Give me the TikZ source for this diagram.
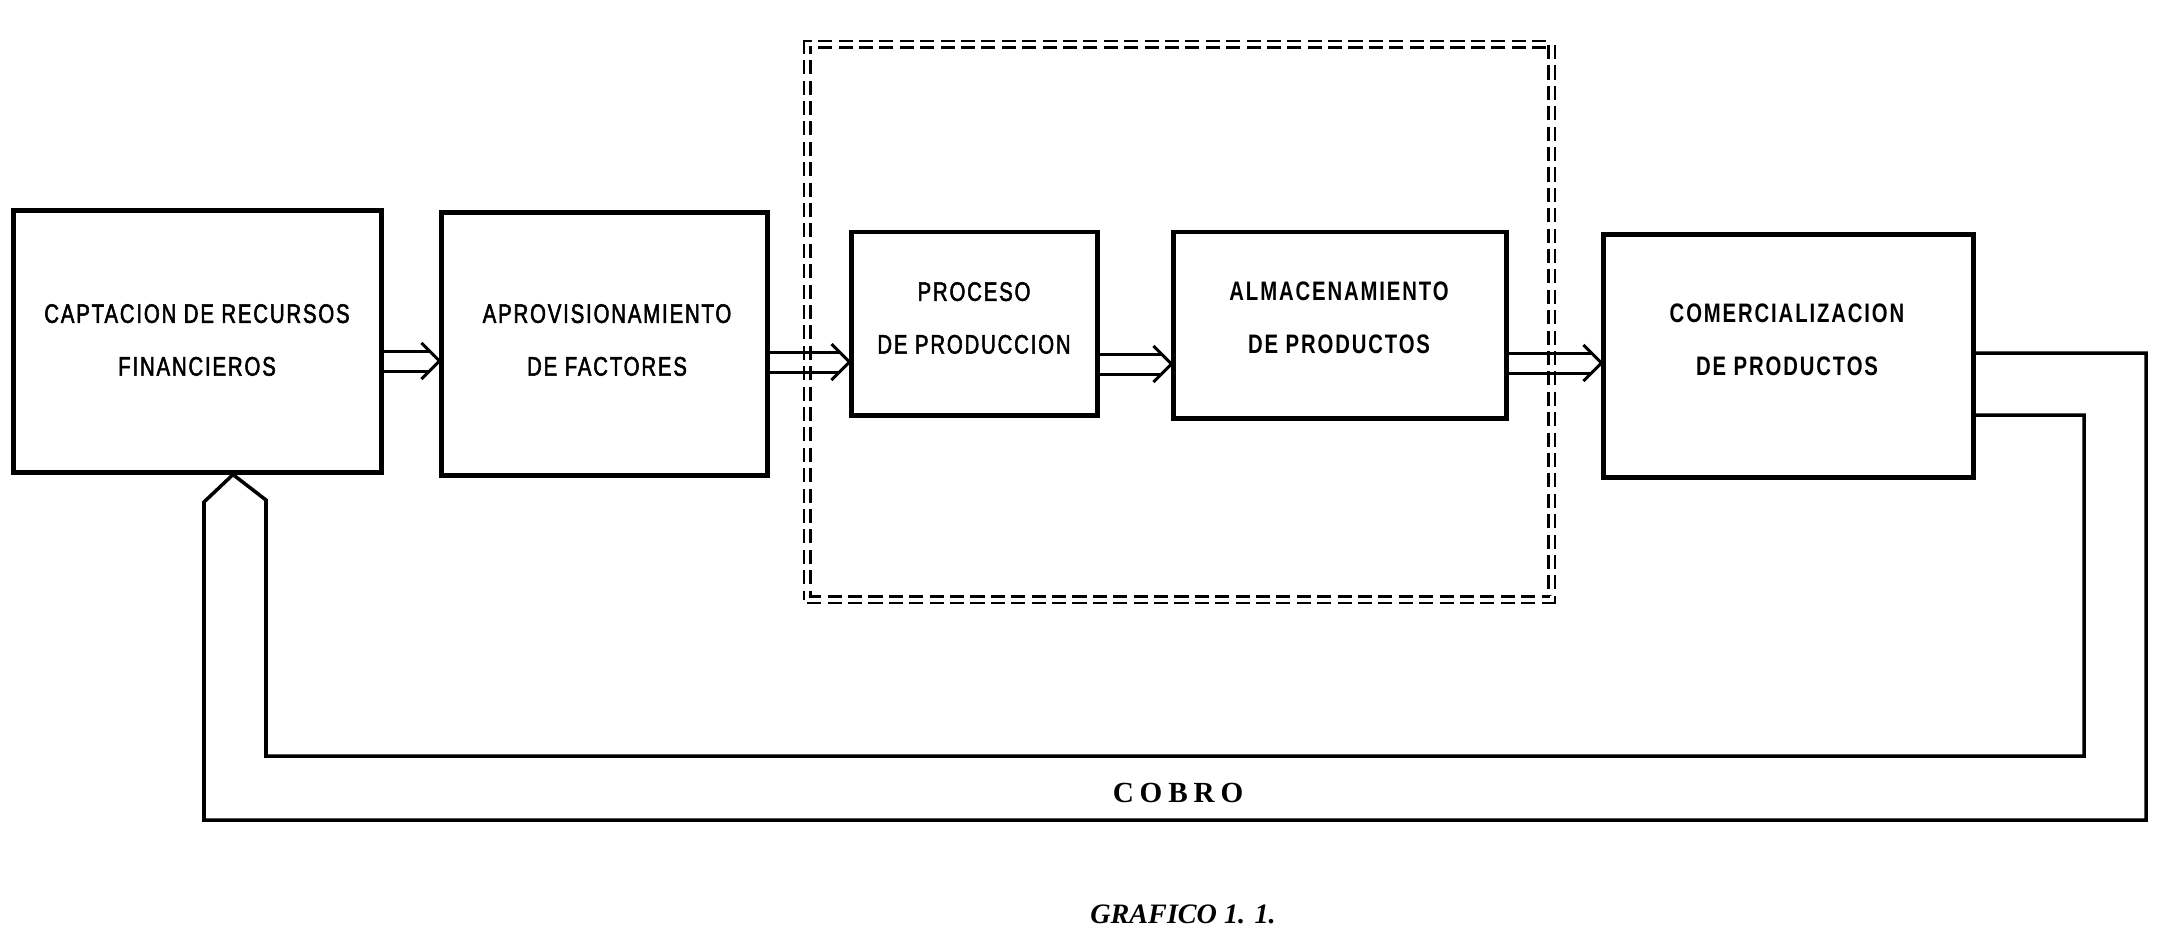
\documentclass[tikz,border=0pt]{standalone}
\usepackage{fontspec}
\setmainfont{Liberation Serif}
\newfontfamily\boxfont[FakeStretch=0.76,LetterSpace=7,FakeBold=2]{Liberation Sans}
\newfontfamily\boxfontb[FakeStretch=0.76,LetterSpace=7,UprightFont={* Bold}]{Liberation Sans}
\usetikzlibrary{calc}
\newcommand\dblarr[3]{%
  \draw[arrline] ($(#1.east |- #3)+(0,-10)$) -- ($(#2.west |- #3)+(-9,-10)$);
  \draw[arrline] ($(#1.east |- #3)+(0,10)$) -- ($(#2.west |- #3)+(-9,10)$);
  \draw[arrline] ($(#2.west |- #3)+(-18,-18)$) -- (#2.west |- #3) -- ($(#2.west |- #3)+(-18,18)$);
}
\begin{document}
\begin{tikzpicture}[x=0.01cm,y=-0.01cm,
  blk/.style={draw,line width=1.4pt,rectangle,inner sep=0pt},
  lbl/.style={align=center,inner sep=0pt,font=\boxfont\fontsize{7.6pt}{15pt}\selectfont},
  lblb/.style={align=center,inner sep=0pt,font=\boxfontb\fontsize{7.6pt}{15pt}\selectfont},
  arrline/.style={line width=0.85pt,line join=miter},
  fb/.style={line width=1pt,line join=miter},
  grpbox/.style={draw,rectangle,line width=0.8pt,double,double distance=1.1pt,dash pattern=on 4pt off 1.8pt,inner sep=0pt}
]
\useasboundingbox (0,0) rectangle (2164,944);

% dashed group box
\node[grpbox,minimum width=7.44cm,minimum height=5.55cm] (grp) at (1179.5,322) {};

% blocks
\node[blk,minimum width=3.67cm,minimum height=2.61cm] (b1) at (197.5,341.5) {};
\node[blk,minimum width=3.25cm,minimum height=2.62cm] (b2) at (604.5,344) {};
\node[blk,minimum width=2.45cm,minimum height=1.83cm] (b3) at (974.5,323.5) {};
\node[blk,minimum width=3.32cm,minimum height=1.86cm] (b4) at (1340,325) {};
\node[blk,minimum width=3.69cm,minimum height=2.42cm] (b5) at (1788.5,356) {};

% labels
\node[lbl] (t1) at (197,340) {CAPTACION DE RECURSOS\\FINANCIEROS};
\node[lbl] (t2) at (607,340) {APROVISIONAMIENTO\\DE FACTORES};
\node[lbl] (t3) at (974,318) {PROCESO\\DE PRODUCCION};
\node[lblb] (t4) at (1339,318) {ALMACENAMIENTO\\DE PRODUCTOS};
\node[lblb] (t5) at (1787,340) {COMERCIALIZACION\\DE PRODUCTOS};

% arrow rows
\coordinate (ra) at (0,361);
\coordinate (rb) at (0,362);
\coordinate (rc) at (0,364);
\coordinate (rd) at (0,363);
\dblarr{b1}{b2}{ra}
\dblarr{b2}{b3}{rb}
\dblarr{b3}{b4}{rc}
\dblarr{b4}{b5}{rd}

% feedback (cobro)
\coordinate (o1) at (2146,353);
\coordinate (o2) at (2146,820);
\coordinate (o3) at (204,820);
\coordinate (o4) at (204,502);
\coordinate (fbx) at (233,0);
\coordinate (i1) at (2084,415);
\coordinate (i2) at (2084,756);
\coordinate (i3) at (266,756);
\coordinate (i4) at (266,500);
\draw[fb] (b5.east |- o1) -- (o1) -- (o2) -- (o3) -- (o4) -- (b1.south -| fbx)
  -- (i4) -- (i3) -- (i2) -- (i1) -- (b5.east |- i1);

\node[font=\bfseries\fontsize{8.3pt}{10pt}\selectfont\addfontfeature{LetterSpace=20}] (cobro) at (1178,793) {COBRO};
\node[font=\bfseries\itshape\fontsize{8pt}{10pt}\selectfont] (cap) at (1183,914) {GRAFICO 1. 1.};
\end{tikzpicture}
\end{document}
